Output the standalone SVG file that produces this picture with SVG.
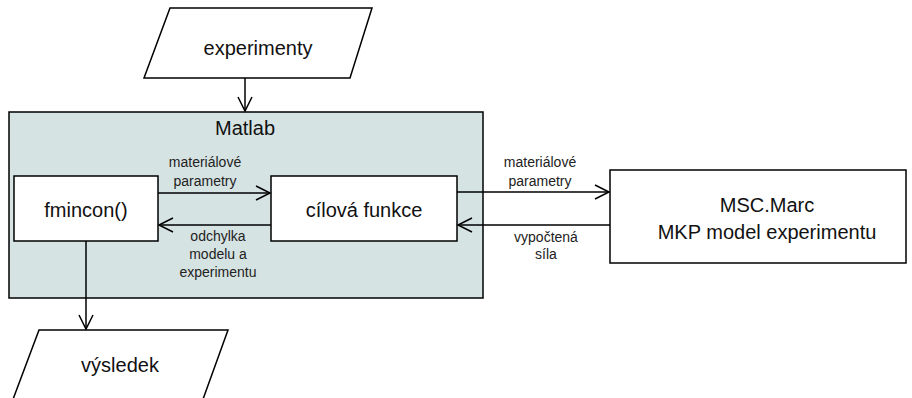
<svg xmlns="http://www.w3.org/2000/svg" width="912" height="398" viewBox="0 0 912 398">
<style>
.s{stroke:#000;stroke-width:1.5;fill:#fff}
.t{font-family:"Liberation Sans",Arial,sans-serif;font-size:20px;text-anchor:middle;fill:#111}
.l{font-family:"Liberation Sans",Arial,sans-serif;font-size:14px;text-anchor:middle;fill:#222}
.c{stroke:#000;stroke-width:1.5;fill:none}
</style>
<defs>
<marker id="a" markerWidth="18" markerHeight="18" refX="15" refY="8" orient="auto" markerUnits="userSpaceOnUse">
<path d="M1,1 L15,8 L1,15" fill="none" stroke="#000" stroke-width="1.5"/>
</marker>
</defs>
<g id="matlab">
<rect x="9" y="112" width="474" height="186" fill="#d6e3e3" stroke="#000" stroke-width="1.5"/>
<text class="t" x="245" y="135">Matlab</text>
</g>
<g id="experimenty">
<polygon class="s" points="170,8 372,8 350,78 144,78"/>
<text class="t" x="258" y="55">experimenty</text>
</g>
<g id="fmincon">
<rect class="s" x="14" y="176" width="144" height="65"/>
<text class="t" x="86" y="217">fmincon()</text>
</g>
<g id="cilova">
<rect class="s" x="271" y="176" width="186" height="65"/>
<text class="t" x="364" y="217">cílová funkce</text>
</g>
<g id="msc">
<rect class="s" x="610" y="170" width="296" height="93"/>
<text class="t" x="767" y="212">MSC.Marc</text>
<text class="t" x="767" y="239">MKP model experimentu</text>
</g>
<g id="vysledek">
<polygon class="s" points="39,330 228,330 202,402 12,402"/>
<text class="t" x="120" y="372">výsledek</text>
</g>
<g id="connectors">
<line class="c" x1="245" y1="78" x2="245" y2="111" marker-end="url(#a)"/>
<line class="c" x1="158" y1="193" x2="270" y2="193" marker-end="url(#a)"/>
<line class="c" x1="271" y1="225" x2="159" y2="225" marker-end="url(#a)"/>
<line class="c" x1="457" y1="192" x2="609" y2="192" marker-end="url(#a)"/>
<line class="c" x1="610" y1="225" x2="458" y2="225" marker-end="url(#a)"/>
<line class="c" x1="86" y1="241" x2="86" y2="329" marker-end="url(#a)"/>
<text class="l" x="205" y="167">materiálové</text>
<text class="l" x="205" y="186">parametry</text>
<text class="l" x="218" y="241">odchylka</text>
<text class="l" x="218" y="259">modelu a</text>
<text class="l" x="218" y="277">experimentu</text>
<text class="l" x="540" y="167">materiálové</text>
<text class="l" x="540" y="186">parametry</text>
<text class="l" x="546" y="242">vypočtená</text>
<text class="l" x="546" y="259">síla</text>
</g>
</svg>
